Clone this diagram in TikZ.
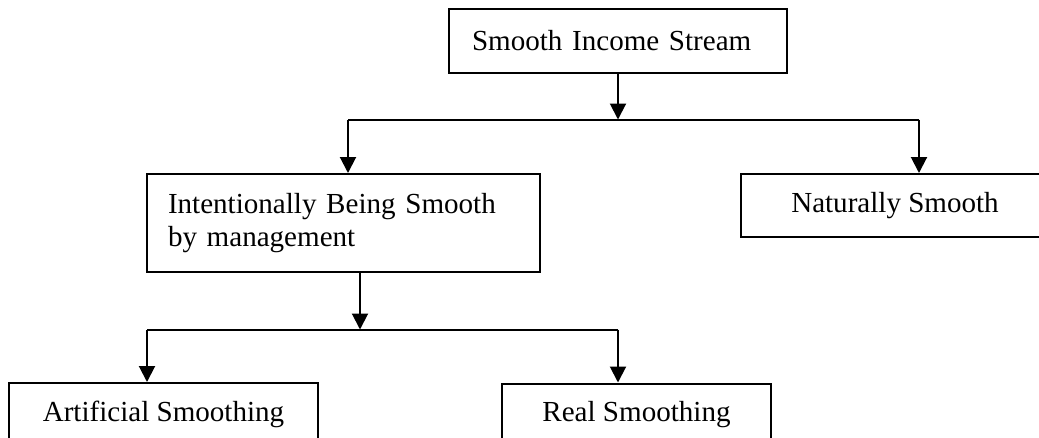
\documentclass[tikz,border=0pt]{standalone}
\usepackage{fontspec}
\setmainfont{Liberation Serif}
\usetikzlibrary{arrows.meta}
\begin{document}
\begin{tikzpicture}[x=0.75pt,y=-0.75pt,
  line width=1.5pt,
  box/.style={draw=black, line width=1.5pt, inner sep=0pt, rectangle,
    font=\fontsize{21.8}{24.75}\selectfont},
  arr/.style={-{Triangle[length=12pt,width=12pt]}}]
\clip (0,0) rectangle (1039,437);
\fill[white] (0,0) rectangle (1039,437);

% boxes
\node[box, minimum width=338*0.75pt, minimum height=64*0.75pt,
      text width=292*0.75pt, align=left] (top) at (618,41) {Smooth Income Stream};
\node[box, minimum width=393*0.75pt, minimum height=98*0.75pt,
      text width=351*0.75pt, align=left] (inten) at (343.5,223)
      {Intentionally Being Smooth\\by management};
\node[box, minimum width=308*0.75pt, minimum height=63*0.75pt] (nat) at (895,205.5) {Naturally Smooth};
\node[box, minimum width=309*0.75pt, minimum height=63*0.75pt] (art) at (163.5,414.5) {Artificial Smoothing};
\node[box, minimum width=269*0.75pt, minimum height=63*0.75pt] (real) at (636.5,415) {Real Smoothing};

% junction points of the two branch bars
\coordinate (j1) at (618,119.5);
\coordinate (b1l) at (348,119.5);
\coordinate (b1r) at (919,119.5);
\coordinate (j2) at (360,329.5);
\coordinate (b2l) at (147,329.5);
\coordinate (b2r) at (618,329.5);

% first level
\draw[arr] (top.south) -- (j1);
\draw (b1l) -- (b1r);
\draw[arr] (b1l) -- (b1l |- inten.north);
\draw[arr] (b1r) -- (b1r |- nat.north);

% second level
\draw[arr] (j2 |- inten.south) -- (j2);
\draw (b2l) -- (b2r);
\draw[arr] (b2l) -- (b2l |- art.north);
\draw[arr] (b2r) -- (b2r |- real.north);
\end{tikzpicture}
\end{document}
